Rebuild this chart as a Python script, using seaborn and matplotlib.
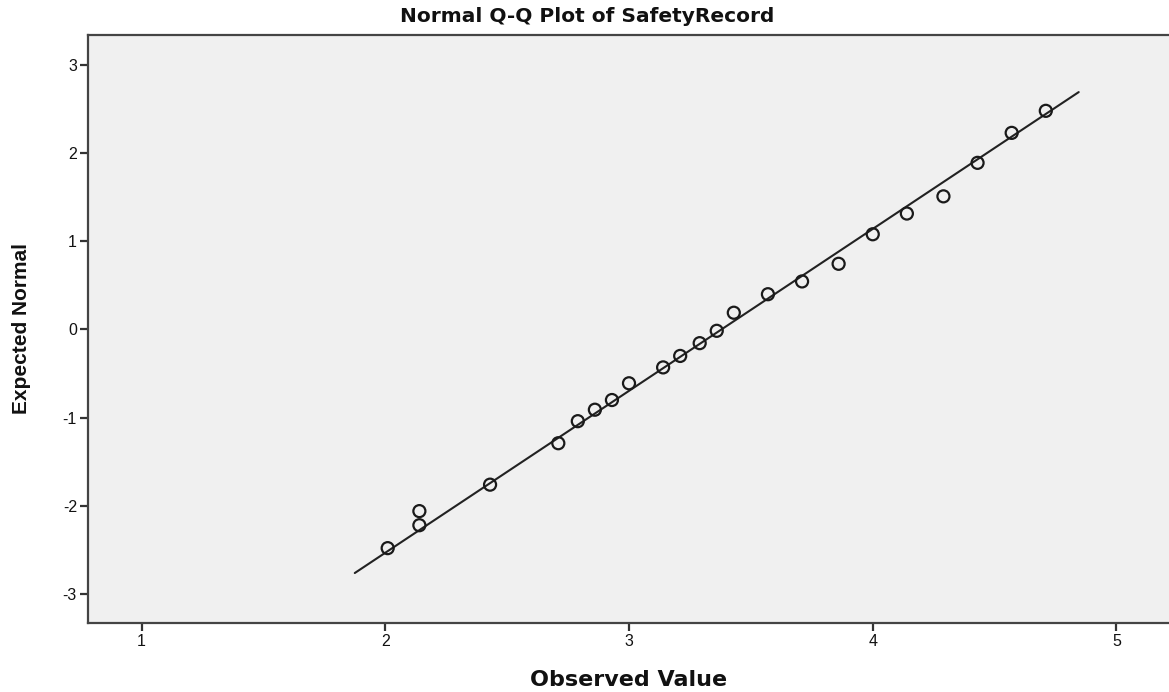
import numpy as np
import pandas as pd
import matplotlib
matplotlib.use("Agg")
import matplotlib.pyplot as plt
import seaborn as sns

# Data
observed = [2.01, 2.14, 2.14, 2.43, 2.71, 2.79, 2.86, 2.93, 3.00, 3.14, 3.21,
            3.29, 3.36, 3.43, 3.57, 3.71, 3.86, 4.00, 4.14, 4.29, 4.43, 4.57, 4.71]
expected = [-2.48, -2.22, -2.06, -1.76, -1.29, -1.04, -0.91, -0.80, -0.61, -0.43, -0.30,
            -0.155, -0.015, 0.19, 0.40, 0.545, 0.745, 1.08, 1.315, 1.51, 1.89, 2.23, 2.48]
line_mean = 3.379
line_sd = 0.5445
x_ticks = [1, 2, 3, 4, 5]
y_ticks = [-3, -2, -1, 0, 1, 2, 3]

sns.set_theme(style="ticks")
plt.rcParams['font.family'] = ['Liberation Sans', 'DejaVu Sans']
plt.rcParams['axes.unicode_minus'] = False

df = pd.DataFrame({"Observed": observed, "Expected": expected})
rng = max(observed) - min(observed)
lx = np.array([min(observed) - 0.05 * rng, max(observed) + 0.05 * rng])
line_df = pd.DataFrame({"x": lx, "y": (lx - line_mean) / line_sd})

fig = plt.figure(figsize=(11.69, 6.92), dpi=100)
ax = fig.add_axes([88 / 1169, 1 - 623 / 692, 1 - 88 / 1169, (623 - 35) / 692])
ax.set_facecolor("#F0F0F0")

sns.lineplot(data=line_df, x="x", y="y", ax=ax, color="#222222", linewidth=1.5)
sns.scatterplot(data=df, x="Observed", y="Expected", ax=ax, s=75,
                facecolor="none", edgecolor="#1a1a1a", linewidth=1.6, zorder=3)

ax.set_xlim(0.7805, 5.2154)
ax.set_ylim(-3.329, 3.340)
ax.set_xticks(x_ticks)
ax.set_yticks(y_ticks)
ax.tick_params(axis="both", direction="out", length=6, width=1.6, color="#333333",
               labelsize=11.5, labelcolor="#111111", pad=2)

for side in ["left", "bottom", "top"]:
    ax.spines[side].set_linewidth(1.6)
    ax.spines[side].set_color("#444444")
ax.spines["right"].set_visible(False)

ax.set_xlabel("Observed Value", fontsize=16, fontweight="bold",
              family=["DejaVu Sans"], labelpad=15, color="#111111")
ax.set_ylabel("Expected Normal", fontsize=15, fontweight="bold",
              family=["Liberation Sans Narrow", "Liberation Sans"], labelpad=23, color="#111111")

fig.text(587 / 1169, 1 - 16 / 692, "Normal Q-Q Plot of SafetyRecord", ha="center", va="center",
         fontsize=14.5, fontweight="bold", family=["DejaVu Sans"], color="#111111")

fig.savefig("out.png", dpi=100)
